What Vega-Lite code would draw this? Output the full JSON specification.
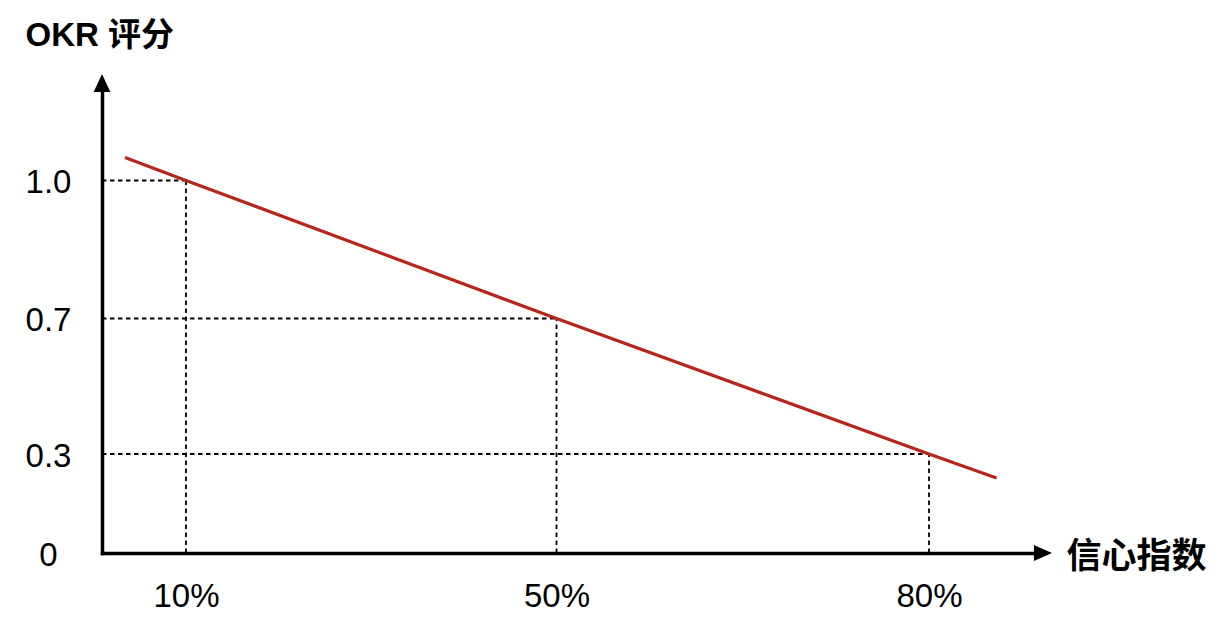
{
  "$schema": "https://vega.github.io/schema/vega-lite/v6.json",
  "width": 1120,
  "height": 553,
  "autosize": {"type": "none"},
  "padding": {"left": 102, "top": 0, "right": 0, "bottom": 75},
  "background": "white",
  "config": {
    "view": {"stroke": null},
    "font": "Liberation Sans",
    "axis": {
      "grid": false, "ticks": false, "tickSize": 0,
      "domainColor": "#000", "domainWidth": 3.5, "domainCap": "square",
      "labelFont": "Liberation Sans", "labelFontSize": 33, "labelColor": "#000",
      "labelBaseline": "middle", "labelAlign": "center",
      "labelFlush": false, "labelOverlap": false, "labelBound": false,
      "titleFont": "Liberation Sans, Noto Sans CJK SC", "titleFontWeight": "bold", "titleColor": "#000",
      "titleAngle": 0, "titleAlign": "left", "titleBaseline": "middle"
    }
  },
  "datasets": {
    "points": [
      {"x": 10, "y": 1.0, "x0": 0, "y0": 0},
      {"x": 50, "y": 0.7, "x0": 0, "y0": 0},
      {"x": 80, "y": 0.3, "x0": 0, "y0": 0}
    ],
    "line": [
      {"x": 2.74, "y": 1.05},
      {"x": 10, "y": 1.0},
      {"x": 50, "y": 0.7},
      {"x": 80, "y": 0.3},
      {"x": 85.44, "y": 0.227}
    ],
    "arrowUp": [{"x": 0, "y": 1.212}],
    "arrowRight": [{"x": 89.18, "y": 0}]
  },
  "layer": [
    {
      "data": {"name": "points"},
      "mark": {"type": "rule", "color": "#000", "strokeWidth": 1.8, "strokeDash": [4.5, 3.5]},
      "encoding": {
        "y": {"field": "y", "type": "quantitative",
          "scale": {"domain": [0, 0.3, 0.7, 1.0, 1.2], "range": [553, 454, 318.5, 180.5, 88.5], "nice": false, "zero": false},
          "axis": {"values": [0, 0.3, 0.7, 1.0], "labelExpr": "datum.value == 0 ? '0' : format(datum.value, '.1f')", "labelPadding": 54, "labelOffset": 2,
            "title": "OKR 评分", "titleFontSize": 33, "titleX": -77, "titleY": 35}},
        "x": {"field": "x0", "type": "quantitative",
          "scale": {"domain": [0, 10, 50, 80, 88.5], "range": [0, 84, 454.5, 827, 932.5], "nice": false, "zero": false},
          "axis": {"values": [10, 50, 80], "labelExpr": "datum.value + '%'", "labelPadding": 43,
            "title": "信心指数", "titleFontSize": 35, "titleX": 964, "titleY": 3}},
        "x2": {"field": "x"}
      }
    },
    {
      "data": {"name": "points"},
      "mark": {"type": "rule", "color": "#000", "strokeWidth": 1.8, "strokeDash": [4.5, 3.5]},
      "encoding": {
        "x": {"field": "x", "type": "quantitative",
          "scale": {"domain": [0, 10, 50, 80, 88.5], "range": [0, 84, 454.5, 827, 932.5], "nice": false, "zero": false},
          "axis": {"values": [10, 50, 80], "labelExpr": "datum.value + '%'", "labelPadding": 43,
            "title": "信心指数", "titleFontSize": 35, "titleX": 964, "titleY": 3}},
        "y": {"field": "y0", "type": "quantitative",
          "scale": {"domain": [0, 0.3, 0.7, 1.0, 1.2], "range": [553, 454, 318.5, 180.5, 88.5], "nice": false, "zero": false},
          "axis": {"values": [0, 0.3, 0.7, 1.0], "labelExpr": "datum.value == 0 ? '0' : format(datum.value, '.1f')", "labelPadding": 54, "labelOffset": 2,
            "title": "OKR 评分", "titleFontSize": 33, "titleX": -77, "titleY": 35}},
        "y2": {"field": "y"}
      }
    },
    {
      "data": {"name": "line"},
      "mark": {"type": "line", "color": "#b5271c", "strokeWidth": 3.2},
      "encoding": {
        "x": {"field": "x", "type": "quantitative",
          "scale": {"domain": [0, 10, 50, 80, 88.5], "range": [0, 84, 454.5, 827, 932.5], "nice": false, "zero": false},
          "axis": {"values": [10, 50, 80], "labelExpr": "datum.value + '%'", "labelPadding": 43,
            "title": "信心指数", "titleFontSize": 35, "titleX": 964, "titleY": 3}},
        "y": {"field": "y", "type": "quantitative",
          "scale": {"domain": [0, 0.3, 0.7, 1.0, 1.2], "range": [553, 454, 318.5, 180.5, 88.5], "nice": false, "zero": false},
          "axis": {"values": [0, 0.3, 0.7, 1.0], "labelExpr": "datum.value == 0 ? '0' : format(datum.value, '.1f')", "labelPadding": 54, "labelOffset": 2,
            "title": "OKR 评分", "titleFontSize": 33, "titleX": -77, "titleY": 35}}
      }
    },
    {
      "data": {"name": "arrowUp"},
      "mark": {"type": "point", "shape": "M0,-1L0.93,1L-0.93,1Z", "size": 324, "filled": true, "color": "#000", "opacity": 1, "strokeWidth": 0},
      "encoding": {
        "x": {"field": "x", "type": "quantitative",
          "scale": {"domain": [0, 10, 50, 80, 88.5], "range": [0, 84, 454.5, 827, 932.5], "nice": false, "zero": false},
          "axis": {"values": [10, 50, 80], "labelExpr": "datum.value + '%'", "labelPadding": 43,
            "title": "信心指数", "titleFontSize": 35, "titleX": 964, "titleY": 3}},
        "y": {"field": "y", "type": "quantitative",
          "scale": {"domain": [0, 0.3, 0.7, 1.0, 1.2], "range": [553, 454, 318.5, 180.5, 88.5], "nice": false, "zero": false},
          "axis": {"values": [0, 0.3, 0.7, 1.0], "labelExpr": "datum.value == 0 ? '0' : format(datum.value, '.1f')", "labelPadding": 54, "labelOffset": 2,
            "title": "OKR 评分", "titleFontSize": 33, "titleX": -77, "titleY": 35}}
      }
    },
    {
      "data": {"name": "arrowRight"},
      "mark": {"type": "point", "shape": "M1,0L-1,0.9L-1,-0.9Z", "size": 324, "filled": true, "color": "#000", "opacity": 1, "strokeWidth": 0},
      "encoding": {
        "x": {"field": "x", "type": "quantitative",
          "scale": {"domain": [0, 10, 50, 80, 88.5], "range": [0, 84, 454.5, 827, 932.5], "nice": false, "zero": false},
          "axis": {"values": [10, 50, 80], "labelExpr": "datum.value + '%'", "labelPadding": 43,
            "title": "信心指数", "titleFontSize": 35, "titleX": 964, "titleY": 3}},
        "y": {"field": "y", "type": "quantitative",
          "scale": {"domain": [0, 0.3, 0.7, 1.0, 1.2], "range": [553, 454, 318.5, 180.5, 88.5], "nice": false, "zero": false},
          "axis": {"values": [0, 0.3, 0.7, 1.0], "labelExpr": "datum.value == 0 ? '0' : format(datum.value, '.1f')", "labelPadding": 54, "labelOffset": 2,
            "title": "OKR 评分", "titleFontSize": 33, "titleX": -77, "titleY": 35}}
      }
    }
  ]
}
